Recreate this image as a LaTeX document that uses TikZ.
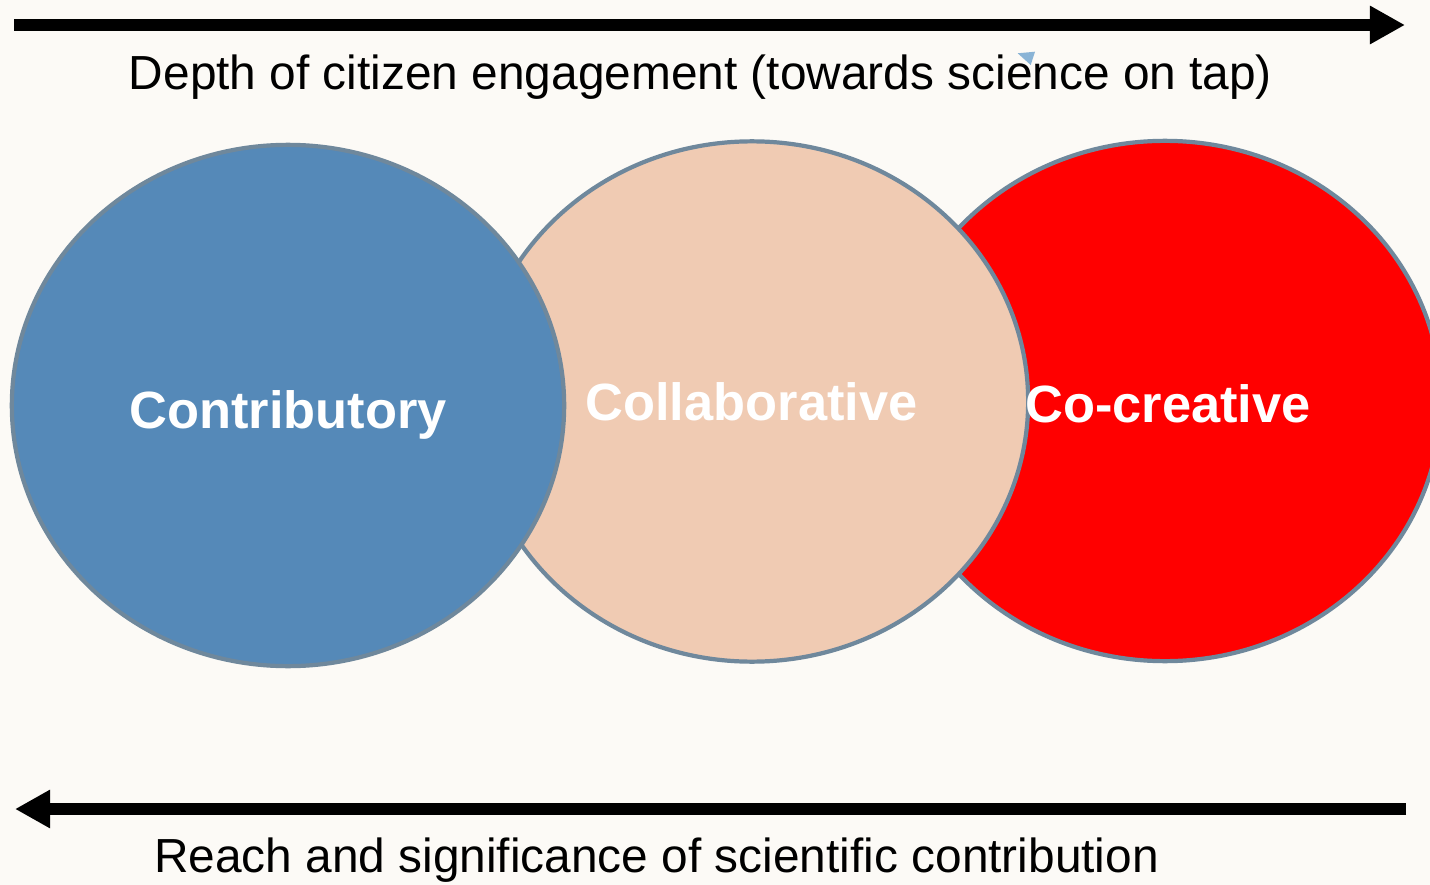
\documentclass[tikz,border=0pt]{standalone}
\usepackage{fontspec}
\setmainfont{Liberation Sans}
\usetikzlibrary{shapes.geometric,arrows.meta}
\definecolor{bgc}{HTML}{FCFAF6}
\definecolor{bluefill}{HTML}{5589B8}
\definecolor{peachfill}{HTML}{F0CBB3}
\definecolor{redfill}{HTML}{FF0000}
\definecolor{rimc}{HTML}{6F889C}
\definecolor{marker}{HTML}{8AB4D6}
\tikzset{
  disc/.style={ellipse, draw=rimc, line width=1.2pt, inner sep=0pt,
    minimum width=5.52cm, minimum height=5.2cm},
  disclabel/.style={text=white, anchor=base, inner sep=0pt,
    font=\bfseries\fontsize{14.9}{17}\selectfont},
  caption/.style={text=black, anchor=base, inner sep=0pt,
    font=\fontsize{13.6}{16}\selectfont},
  bigarrow/.style={line width=0.12cm, draw=black,
    -{Triangle[length=0.35cm, width=0.36cm]}}
}
\begin{document}
\begin{tikzpicture}[x=0.01cm, y=-0.01cm]
  \fill[bgc] (0,0) rectangle (1430,885);
  \useasboundingbox (0,0) rectangle (1430,885);
  \clip (0,0) rectangle (1430,885);
  % arrows
  \coordinate (topstart) at (14,25);
  \coordinate (topend) at (1405,25);
  \draw[bigarrow] (topstart) -- (topend);
  \coordinate (botstart) at (1406,809);
  \coordinate (botend) at (15,809);
  \draw[bigarrow] (botstart) -- (botend);
  % captions
  \node[caption] (toptext) at (700.5,90) {Depth of citizen engagement (towards science on tap)};
  \node[caption] (bottext) at (656.5,872) {Reach and significance of scientific contribution};
  % small marker
  \fill[marker] (1017.7,53.3) -- (1035,51.7) -- (1030.7,65) -- cycle;
  % discs
  \node[disc, fill=redfill] (cocreative) at (1165,401) {};
  \node[disc, fill=peachfill] (collab) at (752,401.5) {};
  \node[disc, fill=bluefill, minimum width=5.52cm, minimum height=5.21cm] (contrib) at (288,405.5) {};
  % labels
  \node[disclabel] (contriblabel) at (288,428) {Contributory};
  \node[disclabel] (collablabel) at (751.5,420) {Collaborative};
  \node[disclabel] (cocreativelabel) at (1168,422) {Co-creative};
\end{tikzpicture}
\end{document}
